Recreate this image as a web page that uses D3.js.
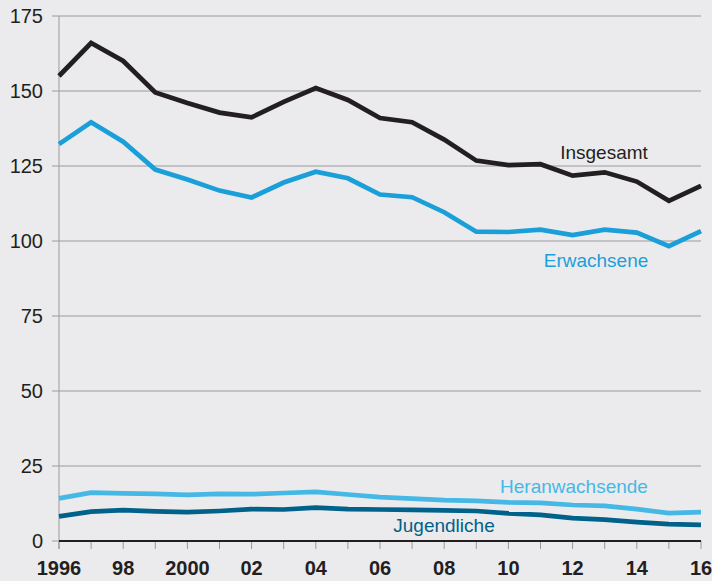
<!DOCTYPE html>
<html>
<head>
<meta charset="utf-8">
<script src="https://cdn.jsdelivr.net/npm/d3@7"></script>
<style>
  html, body { margin: 0; padding: 0; background: #ebebed; }
  svg { display: block; font-family: "Liberation Sans", Arial, sans-serif; }
</style>
</head>
<body>
<div id="canvas"></div>
<script>
"use strict"

// years on the x axis
let years = d3.range(1996, 2017);
let yearLabels = ["1996", "98", "2000", "02", "04", "06", "08", "10", "12", "14", "16"];
let yTicks = [0, 25, 50, 75, 100, 125, 150, 175];

// series values
let insgesamt = [155, 166, 160, 149.5, 146, 142.8, 141.2, 146.4, 151, 147, 141, 139.6, 133.8, 126.8, 125.3, 125.6, 121.8, 122.9, 119.8, 113.4, 118.4];
let erwachsene = [132.3, 139.6, 133.1, 123.8, 120.5, 116.8, 114.5, 119.5, 123.1, 120.9, 115.5, 114.6, 109.6, 103.1, 103, 103.8, 102, 103.8, 102.8, 98.3, 103.3];
let heranwachsende = [14.2, 16.1, 15.9, 15.7, 15.4, 15.7, 15.6, 16, 16.4, 15.5, 14.6, 14.1, 13.6, 13.4, 12.9, 12.7, 12, 11.7, 10.6, 9.3, 9.6];
let jugendliche = [8.2, 9.8, 10.3, 9.9, 9.6, 10, 10.6, 10.5, 11.1, 10.6, 10.5, 10.4, 10.2, 10, 9.2, 8.7, 7.6, 7.1, 6.3, 5.6, 5.4];

let series = [
    {name: "Insgesamt", values: insgesamt, color: "#231f20", lx: 604, ly: 159},
    {name: "Erwachsene", values: erwachsene, color: "#1a9fd9", lx: 596, ly: 267},
    {name: "Heranwachsende", values: heranwachsende, color: "#45b8e6", lx: 574, ly: 493},
    {name: "Jugendliche", values: jugendliche, color: "#00618a", lx: 444, ly: 532}
];

let drawing = d3.select("#canvas")
    .append("svg")
    .attr("width", 712)
    .attr("height", 581);

let x = d3.scaleLinear().domain([1996, 2016]).range([59, 701]);
let y = d3.scaleLinear().domain([0, 175]).range([541, 16]);

// horizontal gridlines
drawing.append("g")
    .selectAll("line")
    .data(yTicks.filter(d => d > 0))
    .join("line")
    .attr("x1", 52)
    .attr("x2", 701)
    .attr("y1", d => y(d))
    .attr("y2", d => y(d))
    .attr("stroke", "#9a9a9c")
    .attr("stroke-width", 1);

// y axis line
drawing.append("line")
    .attr("x1", 59).attr("x2", 59)
    .attr("y1", y(175)).attr("y2", 549)
    .attr("stroke", "#9a9a9c")
    .attr("stroke-width", 1);

// y tick labels
drawing.append("g")
    .selectAll("text")
    .data(yTicks)
    .join("text")
    .attr("x", 43)
    .attr("y", d => y(d) + 7)
    .attr("text-anchor", "end")
    .attr("font-size", 20)
    .attr("fill", "#231f20")
    .text(d => d);

// x ticks
drawing.append("g")
    .selectAll("line")
    .data(years)
    .join("line")
    .attr("x1", d => x(d))
    .attr("x2", d => x(d))
    .attr("y1", 541)
    .attr("y2", 549)
    .attr("stroke", "#9a9a9c")
    .attr("stroke-width", 1);

// zero line
drawing.append("line")
    .attr("x1", 52).attr("x2", 59)
    .attr("y1", y(0)).attr("y2", y(0))
    .attr("stroke", "#9a9a9c");
drawing.append("line")
    .attr("x1", 59).attr("x2", 701)
    .attr("y1", y(0)).attr("y2", y(0))
    .attr("stroke", "#231f20")
    .attr("stroke-width", 2);

// x labels every second year
drawing.append("g")
    .selectAll("text")
    .data(yearLabels)
    .join("text")
    .attr("x", (d, i) => x(1996 + i * 2))
    .attr("y", 575)
    .attr("text-anchor", "middle")
    .attr("font-size", 20)
    .attr("font-weight", "bold")
    .attr("fill", "#231f20")
    .text(d => d);

let line = d3.line()
    .x((d, i) => x(years[i]))
    .y(d => y(d));

series.forEach(s => {
    drawing.append("path")
        .attr("d", line(s.values))
        .attr("fill", "none")
        .attr("stroke", s.color)
        .attr("stroke-width", 4.7)
        .attr("stroke-linejoin", "miter");

    drawing.append("text")
        .attr("x", s.lx)
        .attr("y", s.ly)
        .attr("text-anchor", "middle")
        .attr("font-size", 19)
        .attr("fill", s.color)
        .text(s.name);
});
</script>
</body>
</html>
